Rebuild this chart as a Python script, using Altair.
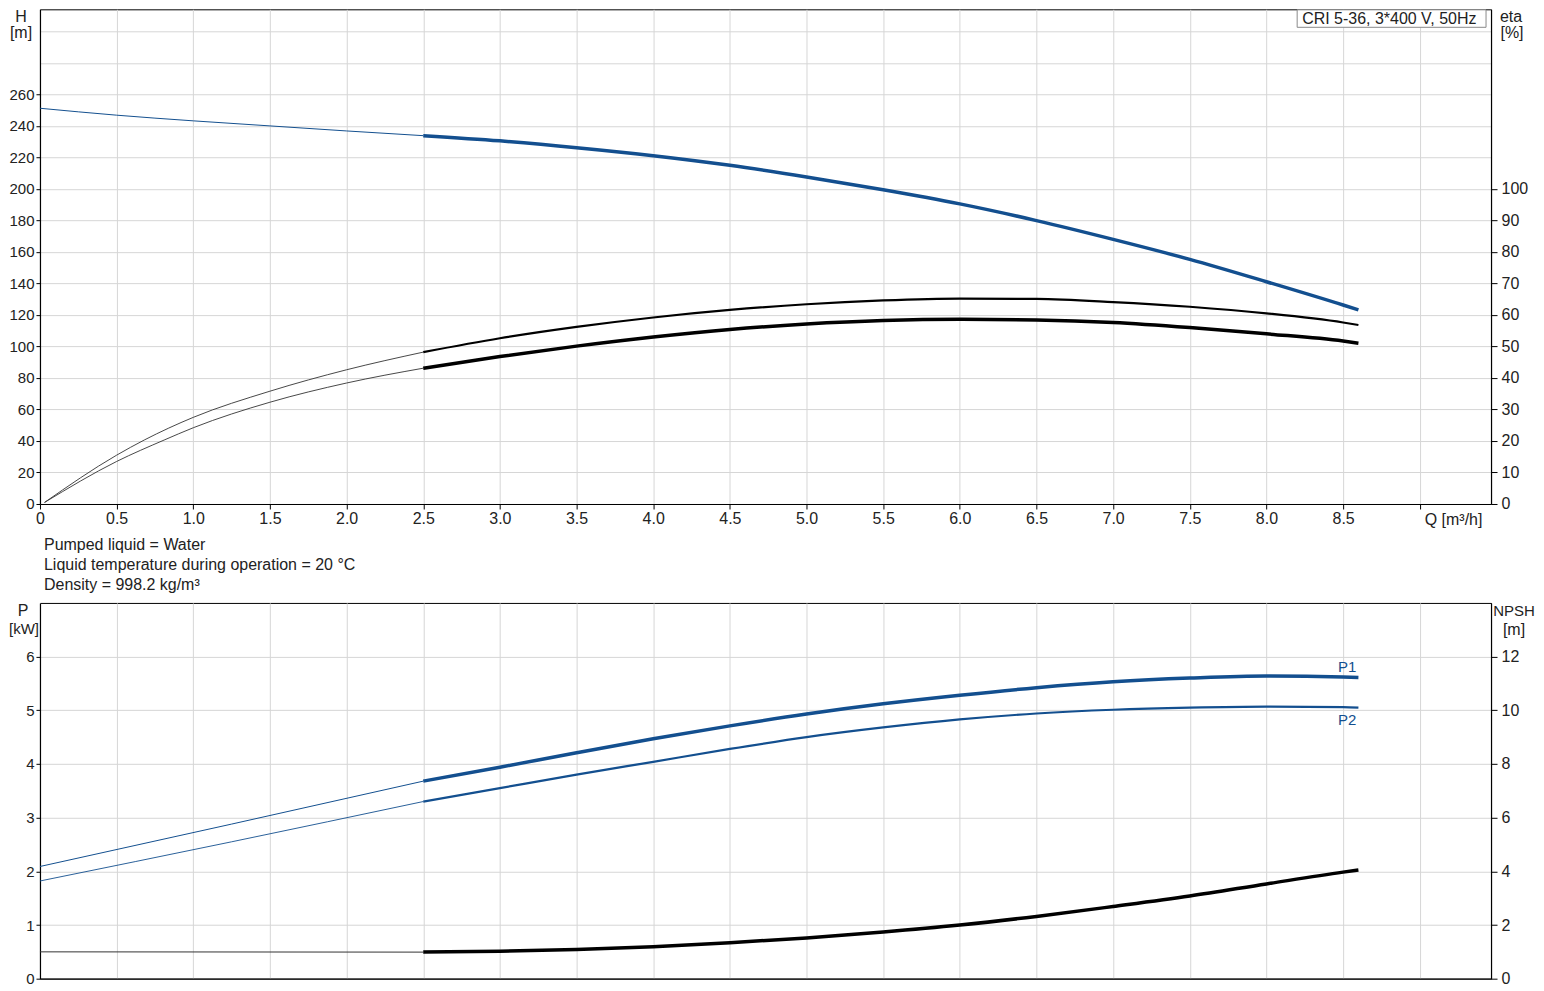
import altair as alt
import pandas as pd

FONT = "Liberation Sans"
BLUE = "#134f8f"
BLACK = "#000000"

# ---------------- data ----------------
X_TICKS = [0, 0.5, 1.0, 1.5, 2.0, 2.5, 3.0, 3.5, 4.0, 4.5, 5.0, 5.5, 6.0, 6.5, 7.0, 7.5, 8.0, 8.5, 9.0]

Q_THIN = [0.0, 0.5, 1.0, 1.5, 2.0, 2.5]
H_THIN = [251.2, 246.8, 243.2, 240.0, 236.8, 233.8]

Q_MAIN = [2.5, 3.0, 3.5, 4.0, 4.5, 5.0, 5.5, 6.0, 6.5, 7.0, 7.5, 8.0, 8.5, 8.6]
H_MAIN = [233.8, 230.5, 226.2, 221.1, 215.0, 207.6, 199.5, 190.5, 179.9, 168.0, 155.3, 141.1, 126.3, 123.2]

Q_ETA1_THIN = [0.03, 0.5, 0.68, 1.0, 1.5, 2.0, 2.5]
ETA1_THIN = [0.5, 15.5, 20.3, 27.5, 35.8, 42.6, 48.2]
Q_ETA2_THIN = [0.03, 0.5, 0.81, 1.0, 1.5, 2.0, 2.5]
ETA2_THIN = [0.5, 13.5, 20.3, 24.2, 32.3, 38.4, 43.1]
ETA1_MAIN = [48.2, 52.6, 56.2, 59.2, 61.6, 63.4, 64.6, 65.2, 65.1, 64.1, 62.6, 60.5, 57.6, 56.8]
ETA2_MAIN = [43.1, 46.8, 50.1, 53.0, 55.4, 57.1, 58.2, 58.6, 58.4, 57.6, 56.0, 54.0, 51.7, 51.0]

Q_P_THIN = [0.0, 1.25, 2.5]
P1_THIN = [2.09, 2.88, 3.68]
P2_THIN = [1.82, 2.55, 3.30]
P1_MAIN = [3.68, 3.94, 4.21, 4.47, 4.71, 4.93, 5.12, 5.28, 5.42, 5.53, 5.60, 5.64, 5.62, 5.61]
P2_MAIN = [3.30, 3.55, 3.80, 4.04, 4.28, 4.50, 4.68, 4.83, 4.94, 5.01, 5.05, 5.07, 5.06, 5.05]

Q_NPSH_THIN = [0.0, 2.5]
NPSH_THIN = [1.0, 0.99]
NPSH_MAIN = [0.99, 1.02, 1.09, 1.19, 1.34, 1.52, 1.74, 2.00, 2.32, 2.69, 3.08, 3.53, 3.97, 4.05]

INFO_LINES = ["Pumped liquid = Water",
              "Liquid temperature during operation = 20 °C",
              "Density = 998.2 kg/m³"]
BOX_TEXT = "CRI 5-36, 3*400 V, 50Hz"

# ---------------- layout constants ----------------
W = 1452
H_TOP = 495
H_BOT = 376
XMAX = 9.465


def seg(name, qs, vs, width, color):
    return pd.DataFrame({"Q": qs, "v": vs, "seg": name, "w": width, "c": color})


def label(text, x, y, align="center", baseline="middle", size=16, color="#222222"):
    return alt.Chart(pd.DataFrame({"t": [text]})).mark_text(
        align=align, baseline=baseline, fontSize=size, color=color, font=FONT
    ).encode(x=alt.value(x), y=alt.value(y), text="t:N")


def xenc(show_labels):
    if show_labels:
        ax = alt.Axis(values=X_TICKS, grid=True, title=None, tickSize=5, labelPadding=2,
                      labelFlush=False,
                      labelExpr="datum.value == 0 ? '0' : (datum.value > 8.9 ? '' : format(datum.value, '.1f'))",
                      labelFontSize=16)
    else:
        ax = alt.Axis(values=X_TICKS, grid=True, title=None, labels=False, ticks=False)
    return alt.X("Q:Q", scale=alt.Scale(domain=[0, XMAX], nice=False, zero=False), axis=ax)


def lines(df, x, y):
    return alt.Chart(df).mark_line(interpolate="monotone", strokeCap="butt").encode(
        x=x, y=y, detail="seg:N",
        strokeWidth=alt.StrokeWidth("w:Q", scale=None),
        color=alt.Color("c:N", scale=None),
    )


# ---------------- top panel ----------------
h_df = pd.concat([seg("H_thin", Q_THIN, H_THIN, 1.0, BLUE),
                  seg("H_main", Q_MAIN, H_MAIN, 3.5, BLUE)])
eta_df = pd.concat([seg("e1_thin", Q_ETA1_THIN, ETA1_THIN, 0.9, "#333333"),
                    seg("e2_thin", Q_ETA2_THIN, ETA2_THIN, 0.9, "#333333"),
                    seg("e1_main", Q_MAIN, ETA1_MAIN, 2.2, BLACK),
                    seg("e2_main", Q_MAIN, ETA2_MAIN, 3.5, BLACK)])

y_h = alt.Y("v:Q", scale=alt.Scale(domain=[0, 314], nice=False),
            axis=alt.Axis(orient="left", values=list(range(0, 301, 20)), title=None, grid=True,
                          labelFlush=False,
                          labelExpr="datum.value <= 260 ? datum.label : ''",
                          tickOpacity={"condition": {"test": "datum.value > 260", "value": 0}, "value": 1},
                          tickSize=4, labelPadding=2, minExtent=31, labelFontSize=15))
y_eta = alt.Y("v:Q", scale=alt.Scale(domain=[0, 157], nice=False),
              axis=alt.Axis(orient="right", values=list(range(0, 101, 10)), title=None, grid=False,
                            labelFlush=False, tickSize=6, labelPadding=4, labelFontSize=16))

h_layer = lines(h_df, xenc(True), y_h)
eta_layer = lines(eta_df, xenc(True), y_eta)

box = alt.Chart(pd.DataFrame({"t": [BOX_TEXT]})).mark_rect(
    fill="white", stroke="#8a8a8a", strokeWidth=1
).encode(x=alt.value(1258), x2=alt.value(1447), y=alt.value(0.5), y2=alt.value(18))

q_label = alt.Chart(pd.DataFrame({"t": ["Q [m³/h]"]})).mark_text(
    align="left", baseline="middle", fontSize=16, color="#222222", font=FONT, dx=5
).encode(x=alt.datum(9.0), y=alt.value(511), text="t:N")

top = alt.layer(
    h_layer, eta_layer, box,
    label(BOX_TEXT, 1263, 9.5, align="left"),
    label("H", -19, 8),
    label("[m]", -19, 24),
    label("eta", 1472, 8),
    label("[%]", 1473, 24),
    q_label,
    label(INFO_LINES[0], 4, 536, align="left"),
    label(INFO_LINES[1], 4, 556, align="left"),
    label(INFO_LINES[2], 4, 576, align="left"),
).resolve_scale(y="independent").properties(width=W, height=H_TOP)

# ---------------- bottom panel ----------------
p_df = pd.concat([seg("P1_thin", Q_P_THIN, P1_THIN, 1.0, BLUE),
                  seg("P2_thin", Q_P_THIN, P2_THIN, 0.9, BLUE),
                  seg("P1_main", Q_MAIN, P1_MAIN, 3.5, BLUE),
                  seg("P2_main", Q_MAIN, P2_MAIN, 2.2, BLUE)])
npsh_df = pd.concat([seg("N_thin", Q_NPSH_THIN, NPSH_THIN, 1.0, "#333333"),
                     seg("N_main", Q_MAIN, NPSH_MAIN, 3.5, BLACK)])

y_p = alt.Y("v:Q", scale=alt.Scale(domain=[0, 7], nice=False),
            axis=alt.Axis(orient="left", values=list(range(0, 7)), title=None, grid=True,
                          labelFlush=False, tickSize=4, labelPadding=2, minExtent=31, labelFontSize=15))
y_n = alt.Y("v:Q", scale=alt.Scale(domain=[0, 14], nice=False),
            axis=alt.Axis(orient="right", values=list(range(0, 13, 2)), title=None, grid=False,
                          labelFlush=False, tickSize=6, labelPadding=4, labelFontSize=16))

bottom = alt.layer(
    lines(p_df, xenc(False), y_p),
    lines(npsh_df, xenc(False), y_n),
    label("P", -17, 8),
    label("[kW]", -16, 26, size=15),
    label("NPSH", 1475, 8, size=15),
    label("[m]", 1475, 27),
    label("P1", 1308, 64, size=15, color=BLUE),
    label("P2", 1308, 117, size=15, color=BLUE),
).resolve_scale(y="independent").properties(width=W, height=H_BOT)

chart = alt.vconcat(top, bottom, spacing=8).properties(padding=0).configure_view(
    stroke="#000000", strokeWidth=1
).configure_axis(
    labelFont=FONT, labelColor="#222222",
    gridColor="#d6d6d6", gridWidth=1, domainColor="#000000", domainWidth=1.2,
    tickColor="#000000"
)

chart.save("out.html", embed_options={"renderer": "svg", "actions": False})
